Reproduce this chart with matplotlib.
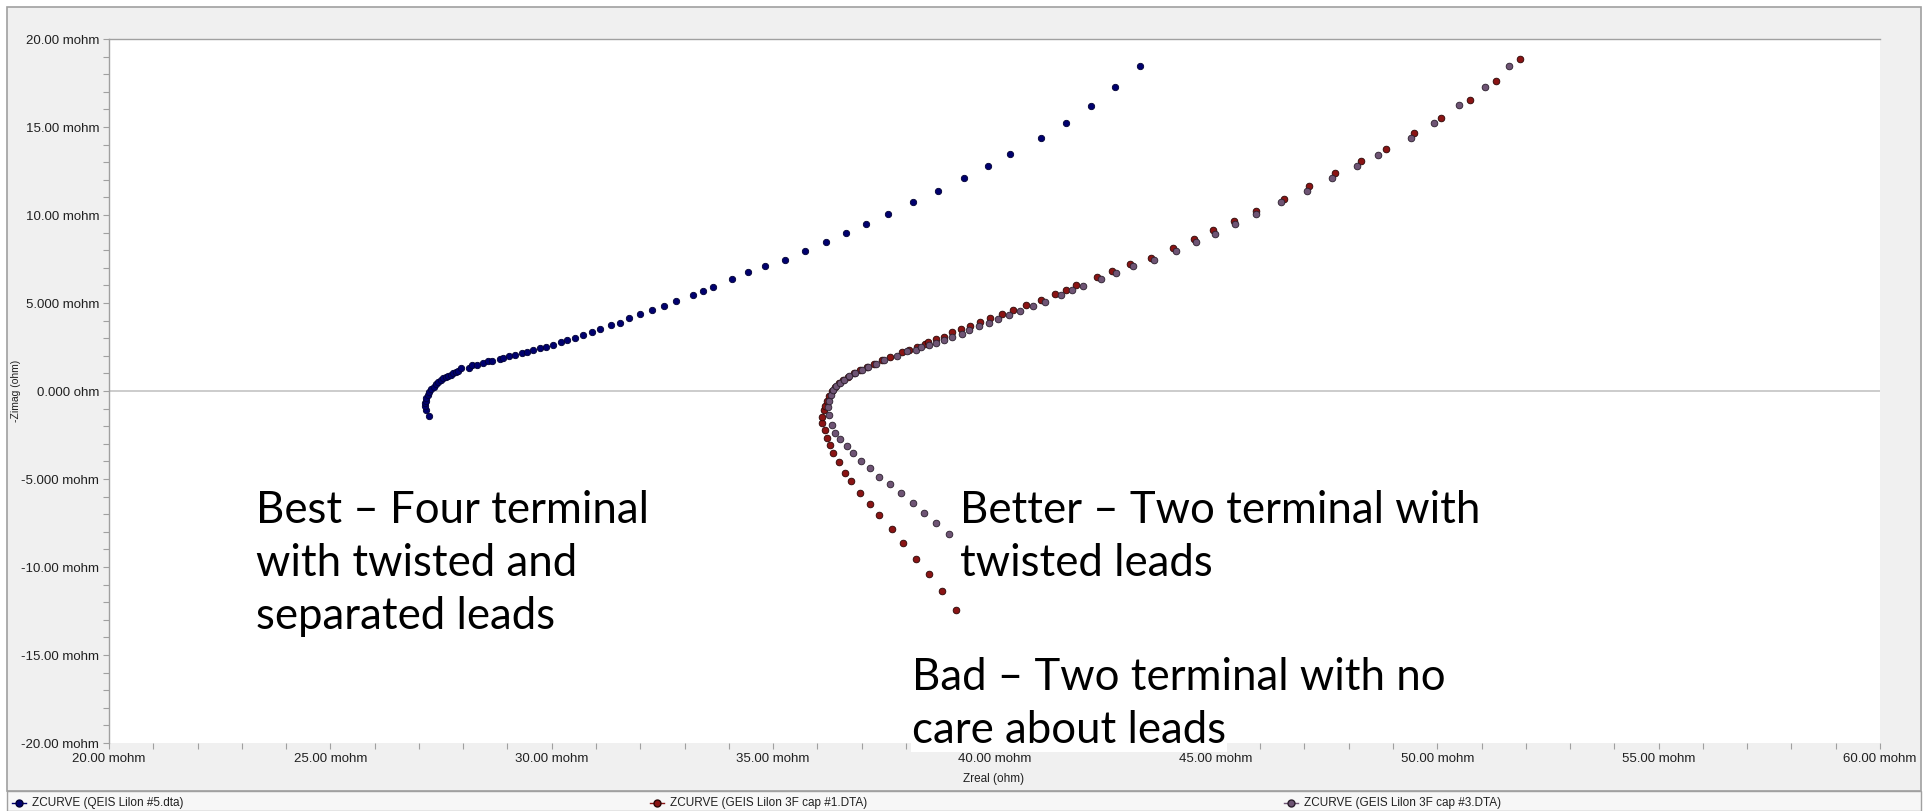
import matplotlib
matplotlib.use("Agg")
import matplotlib.pyplot as plt
from matplotlib.lines import Line2D
from matplotlib.patches import Rectangle
from matplotlib.ticker import MultipleLocator, FixedLocator, FixedFormatter

# Nyquist data, mohm (Zreal, -Zimag)
best_zr = [27.23, 27.17, 27.14, 27.13, 27.15, 27.17, 27.20, 27.23, 27.28, 27.33, 27.38, 27.44,
           27.50, 27.55, 27.61, 27.66, 27.72, 27.78, 27.84, 27.89, 27.96,
           28.13, 28.21, 28.32, 28.44, 28.57, 28.66, 28.83, 28.91, 29.04, 29.17, 29.32, 29.45,
           29.57, 29.73, 29.86, 30.02, 30.21, 30.35, 30.53, 30.71, 30.90, 31.10, 31.34, 31.55,
           31.75, 32.00, 32.26, 32.53, 32.81, 33.18, 33.41, 33.64, 34.08, 34.43, 34.82, 35.26,
           35.73, 36.20, 36.64, 37.10, 37.59, 38.17, 38.72, 39.32, 39.85, 40.36, 41.04, 41.62,
           42.18, 42.73, 43.28]
best_zi = [-1.40, -1.08, -0.85, -0.70, -0.55, -0.42, -0.22, -0.04, 0.12, 0.25, 0.40, 0.53,
           0.62, 0.72, 0.79, 0.85, 0.93, 1.00, 1.07, 1.14, 1.29,
           1.31, 1.46, 1.50, 1.59, 1.69, 1.71, 1.82, 1.89, 1.99, 2.05, 2.18, 2.22,
           2.33, 2.46, 2.52, 2.63, 2.77, 2.90, 3.03, 3.20, 3.37, 3.54, 3.73, 3.88,
           4.13, 4.36, 4.60, 4.83, 5.11, 5.46, 5.70, 5.93, 6.38, 6.74, 7.08, 7.44,
           7.96, 8.49, 8.96, 9.47, 10.06, 10.76, 11.39, 12.08, 12.78, 13.49, 14.36, 15.23,
           16.21, 17.27, 18.49]

bad_zr = [39.13, 38.81, 38.53, 38.23, 37.93, 37.68, 37.40, 37.19, 36.96, 36.77, 36.62, 36.48,
          36.36, 36.29, 36.21, 36.17, 36.11, 36.11, 36.16,
          36.17, 36.22, 36.26, 36.32, 36.40, 36.48, 36.58, 36.70, 36.83, 36.97, 37.12, 37.28,
          37.45, 37.63, 37.92, 38.07, 38.24, 38.43, 38.50, 38.67, 38.86, 39.05, 39.25, 39.45,
          39.68, 39.89, 40.17, 40.42, 40.72, 41.04, 41.37, 41.61, 41.85, 42.31, 42.66, 43.06,
          43.54, 44.04, 44.50, 44.94, 45.40, 45.91, 46.54, 47.11, 47.70, 48.27, 48.85, 49.47,
          50.09, 50.74, 51.32, 51.88]
bad_zi = [-12.44, -11.36, -10.40, -9.53, -8.64, -7.84, -7.06, -6.44, -5.80, -5.11, -4.64, -4.05,
          -3.54, -3.07, -2.65, -2.22, -1.84, -1.50, -1.08,
          -0.85, -0.55, -0.28, 0.00, 0.25, 0.45, 0.63, 0.82, 1.00, 1.18, 1.37, 1.56,
          1.75, 1.93, 2.24, 2.33, 2.48, 2.65, 2.79, 2.97, 3.09, 3.33, 3.52, 3.68,
          3.92, 4.15, 4.38, 4.60, 4.91, 5.19, 5.53, 5.76, 6.00, 6.48, 6.80, 7.22,
          7.58, 8.14, 8.62, 9.15, 9.66, 10.25, 10.93, 11.63, 12.39, 13.09, 13.73, 14.66,
          15.53, 16.52, 17.61, 18.85]

better_zr = [38.97, 38.68, 38.41, 38.17, 37.89, 37.64, 37.40, 37.19, 36.98, 36.80, 36.66, 36.51,
             36.40, 36.32, 36.27, 36.25,
             36.27, 36.30, 36.35, 36.42, 36.50, 36.60, 36.72, 36.85, 37.00, 37.15, 37.32,
             37.50, 37.79, 38.03, 38.23, 38.34, 38.53, 38.67, 38.85, 39.05, 39.27, 39.43,
             39.66, 39.87, 40.08, 40.33, 40.58, 40.86, 41.15, 41.51, 41.74, 42.00, 42.41,
             42.75, 43.13, 43.61, 44.10, 44.55, 44.97, 45.43, 45.91, 46.48, 47.06, 47.62,
             48.18, 48.66, 49.40, 49.93, 50.50, 51.08, 51.61]
better_zi = [-8.13, -7.48, -6.91, -6.38, -5.81, -5.30, -4.87, -4.39, -3.98, -3.54, -3.13, -2.75,
             -2.37, -1.93, -1.36, -0.89,
             -0.55, -0.25, 0.05, 0.28, 0.47, 0.65, 0.83, 1.01, 1.20, 1.37, 1.56,
             1.75, 2.01, 2.25, 2.35, 2.52, 2.61, 2.75, 2.92, 3.09, 3.26, 3.45,
             3.68, 3.85, 4.07, 4.32, 4.55, 4.83, 5.06, 5.46, 5.72, 5.95, 6.35,
             6.69, 7.10, 7.44, 7.97, 8.49, 8.94, 9.47, 10.04, 10.74, 11.38, 12.08,
             12.80, 13.43, 14.38, 15.23, 16.23, 17.27, 18.49]

legend_labels = ["ZCURVE (QEIS Lilon #5.dta)",
                 "ZCURVE (GEIS Lilon 3F cap #1.DTA)",
                 "ZCURVE (GEIS Lilon 3F cap #3.DTA)"]

W, H = 1933, 811
BG = "#F0F0F0"
FRAME = "#A0A0A0"
TICKFONT = "Liberation Sans"
NOTEFONT = "Lato"


def fx(px):
    return px / W


def fy(py):
    return 1 - py / H


fig = plt.figure(figsize=(W / 100, H / 100), dpi=100)
fig.patch.set_facecolor("white")

# control frame + grey panel (behind the axes)
fig.add_artist(Rectangle((fx(7), fy(791)), fx(1921) - fx(7), fy(7) - fy(791),
                         transform=fig.transFigure, facecolor=BG, edgecolor=FRAME,
                         lw=1.2, zorder=-10))
fig.add_artist(Rectangle((fx(7), fy(811)), fx(1921) - fx(7), fy(791) - fy(811),
                         transform=fig.transFigure, facecolor="#F7F7F7", edgecolor=FRAME,
                         lw=1.0, zorder=-10))

ax = fig.add_axes([fx(109), fy(743), fx(1880) - fx(109), fy(39) - fy(743)])
ax.set_facecolor("white")

ax.axhline(0, color="#C8C8C8", lw=1.3, zorder=1)

ax.plot(best_zr, best_zi, ls="none", marker="o", ms=4.6, mfc="#00006E", mec="#000033",
        mew=0.6, zorder=3)
ax.plot(bad_zr, bad_zi, ls="none", marker="o", ms=4.8, mfc="#8A1414", mec="#2A0505",
        mew=0.6, zorder=3)
ax.plot(better_zr, better_zi, ls="none", marker="o", ms=4.8, mfc="#6E5474", mec="#2A1E2C",
        mew=0.6, zorder=3)

ax.set_xlim(20, 60)
ax.set_ylim(-20, 20)

xt = [20, 25, 30, 35, 40, 45, 50, 55, 60]
ax.xaxis.set_major_locator(FixedLocator(xt))
ax.xaxis.set_major_formatter(FixedFormatter([f"{v:.2f} mohm" for v in xt]))
ax.xaxis.set_minor_locator(MultipleLocator(1))
yt = [20, 15, 10, 5, 0, -5, -10, -15, -20]
ylabels = ["20.00 mohm", "15.00 mohm", "10.00 mohm", "5.000 mohm", "0.000 ohm",
           "-5.000 mohm", "-10.00 mohm", "-15.00 mohm", "-20.00 mohm"]
ax.yaxis.set_major_locator(FixedLocator(yt))
ax.yaxis.set_major_formatter(FixedFormatter(ylabels))
ax.yaxis.set_minor_locator(MultipleLocator(1))

ax.tick_params(which="both", direction="out", length=4, width=0.8, color=FRAME)
ax.tick_params(axis="x", which="major", labelsize=9.5, pad=3)
ax.tick_params(axis="y", which="major", labelsize=9.5, pad=3)
for lab in ax.get_xticklabels() + ax.get_yticklabels():
    lab.set_fontfamily(TICKFONT)
    lab.set_color("#202020")

for side in ["left", "top"]:
    ax.spines[side].set_color(FRAME)
    ax.spines[side].set_linewidth(1.0)
for side in ["right", "bottom"]:
    ax.spines[side].set_visible(False)

fig.text(fx(994), fy(779), "Zreal (ohm)", ha="center", va="center",
         fontsize=8.5, family=TICKFONT, color="#202020")
fig.text(fx(16), fy(391), "-Zimag (ohm)", ha="center", va="center", rotation=90,
         fontsize=7.5, family=TICKFONT, color="#202020")

# annotations
notes = [
    (256, 523, "Best \u2013 Four terminal"),
    (256, 576, "with twisted and"),
    (256, 629, "separated leads"),
    (960, 523, "Better \u2013 Two terminal with"),
    (960, 576, "twisted leads"),
    (912, 690, "Bad \u2013 Two terminal with no"),
    (912, 743, "care about leads"),
]
for x, y, s in notes:
    fig.text(fx(x), fy(y), s, ha="left", va="baseline", fontsize=31.5, family=NOTEFONT,
             color="black", zorder=10,
             bbox=dict(facecolor="white", edgecolor="none", pad=1))

# legend strip
leg_x = [12, 650, 1284]
leg_colors = [("#00006E", "#000033"), ("#8A1414", "#2A0505"), ("#6E5474", "#2A1E2C")]
for x0, (fc, ec), lab in zip(leg_x, leg_colors, legend_labels):
    fig.add_artist(Line2D([fx(x0), fx(x0 + 7), fx(x0 + 14)], [fy(803)] * 3,
                          transform=fig.transFigure, color=fc, lw=1.0, marker="o", ms=5,
                          mfc=fc, mec=ec, markevery=[1]))
    fig.text(fx(x0 + 20), fy(803), lab, ha="left", va="center", fontsize=8.5,
             family=TICKFONT, color="#202020")

fig.savefig("out.png", dpi=100, facecolor=fig.get_facecolor())
